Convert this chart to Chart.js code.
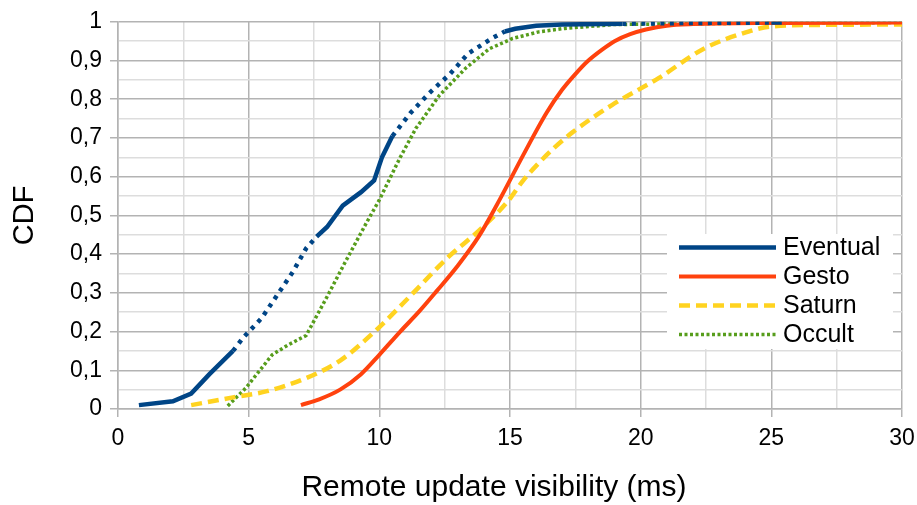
<!DOCTYPE html>
<html>
<head>
<meta charset="utf-8">
<script src="https://cdn.jsdelivr.net/npm/chart.js@4.4.1/dist/chart.umd.min.js"></script>
<style>
  html, body { margin: 0; padding: 0; background: #fff; }
  #wrap { width: 917px; height: 505px; }
</style>
</head>
<body>
<div id="wrap"><canvas id="cdf"></canvas></div>
<script>
// CDF curves (x in ms, y = cumulative fraction)
const seriesNames = ["Eventual", "Gesto", "Saturn", "Occult"];

const eventualX = [0.8, 2.1, 2.8, 3.5, 4.4, 4.8, 5.5, 6.1, 6.7, 7.2, 7.6, 8.0, 8.6, 9.3, 9.8, 10.1, 10.5, 11.2, 11.9, 12.7, 13.4, 14.3, 14.8, 15.2, 16.0, 17.0, 19.3, 22.0, 25.0, 25.4];
const eventualY = [0.01, 0.02, 0.04, 0.09, 0.15, 0.185, 0.235, 0.295, 0.355, 0.415, 0.445, 0.47, 0.525, 0.56, 0.59, 0.65, 0.705, 0.765, 0.815, 0.865, 0.918, 0.957, 0.975, 0.982, 0.99, 0.993, 0.995, 0.997, 0.998, 0.998];

const gestoX = [7.0, 7.7, 8.5, 9.3, 10.0, 10.8, 11.5, 12.2, 13.0, 13.8, 14.6, 15.5, 16.4, 17.0, 17.5, 18.0, 18.5, 19.0, 19.6, 20.2, 21.0, 22.0, 25.0, 30.0];
const gestoY = [0.01, 0.025, 0.05, 0.09, 0.14, 0.2, 0.25, 0.305, 0.37, 0.445, 0.54, 0.655, 0.765, 0.825, 0.865, 0.9, 0.927, 0.95, 0.968, 0.98, 0.99, 0.994, 0.997, 0.998];

const saturnX = [2.8, 4.4, 5.7, 7.2, 8.5, 9.9, 11.3, 12.6, 13.8, 14.9, 15.5, 16.1, 16.7, 17.4, 18.9, 20.7, 22.4, 23.9, 25.0, 27.0, 30.0];
const saturnY = [0.01, 0.03, 0.046, 0.08, 0.125, 0.205, 0.3, 0.39, 0.46, 0.535, 0.59, 0.635, 0.675, 0.715, 0.785, 0.855, 0.93, 0.97, 0.988, 0.992, 0.993];

const occultX = [4.2, 4.9, 5.9, 6.5, 7.2, 8.0, 8.7, 9.5, 10.0, 10.8, 11.4, 12.3, 13.3, 14.2, 15.1, 16.1, 17.1, 19.0, 25.0, 30.0];
const occultY = [0.008, 0.055, 0.14, 0.165, 0.19, 0.29, 0.38, 0.48, 0.54, 0.65, 0.725, 0.81, 0.88, 0.93, 0.957, 0.974, 0.983, 0.993, 0.997, 0.998];

const xTickLabels = ["0", "5", "10", "15", "20", "25", "30"];
const yTickLabels = ["0", "0,1", "0,2", "0,3", "0,4", "0,5", "0,6", "0,7", "0,8", "0,9", "1"];
const xTitle = "Remote update visibility (ms)";

// parts of the Eventual line that the original renders dotted
const eventualDottedRanges = [[4.4, 7.6], [10.5, 14.8], [19.3, 25.0]];

const colors = ["#004586", "#ff420e", "#ffd320", "#579d1c"];
const dashes = [[], [], [11, 6], [3, 2.5]];
const widths = [4.5, 4, 4.5, 3.5];

function pairs(xs, ys) {
  return xs.map((x, i) => ({ x: x, y: ys[i] }));
}

const FONT = "'Liberation Sans', Arial, sans-serif";
const MAJOR = "#b3b3b3";
const MINOR = "#dddddd";

const datasets = [
  pairs(eventualX, eventualY),
  pairs(gestoX, gestoY),
  pairs(saturnX, saturnY),
  pairs(occultX, occultY),
].map((data, i) => ({
  label: seriesNames[i],
  data: data,
  borderColor: colors[i],
  backgroundColor: colors[i],
  borderWidth: widths[i],
  borderDash: dashes[i],
  pointRadius: 0,
  fill: false,
  tension: 0,
  cubicInterpolationMode: i === 1 || i === 2 ? "monotone" : "default",
}));

datasets[0].segment = {
  borderDash: function (ctx) {
    const x = ctx.p0.parsed.x;
    const dotted = eventualDottedRanges.some((r) => x >= r[0] - 1e-6 && x < r[1] - 1e-6);
    return dotted ? [4, 5.5] : [];
  },
};

// legend drawn inside the plot, LibreOffice style, plus the x axis title
const insideLegend = {
  id: "insideLegend",
  afterDraw(chart) {
    const ctx = chart.ctx;
    ctx.save();
    ctx.fillStyle = "#ffffff";
    ctx.fillRect(667, 234, 226, 115);
    ctx.font = "25px " + FONT;
    ctx.textBaseline = "middle";
    ctx.textAlign = "left";
    seriesNames.forEach((name, i) => {
      const y = 247.5 + i * 29;
      ctx.beginPath();
      ctx.setLineDash(dashes[i]);
      ctx.lineWidth = widths[i];
      ctx.strokeStyle = colors[i];
      ctx.moveTo(679, y);
      ctx.lineTo(776, y);
      ctx.stroke();
      ctx.setLineDash([]);
      ctx.fillStyle = "#000000";
      ctx.fillText(name, 783, y + 1);
    });
    ctx.font = "30px " + FONT;
    ctx.textAlign = "center";
    ctx.fillText(xTitle, 494, 488);
    ctx.restore();
  },
};

function isMajor(value, step) {
  const r = value / step;
  return Math.abs(r - Math.round(r)) < 1e-6;
}

new Chart(document.getElementById("cdf"), {
  type: "line",
  data: { datasets },
  plugins: [insideLegend],
  options: {
    responsive: true,
    maintainAspectRatio: false,
    animation: false,
    layout: { padding: { top: 20, right: 15, bottom: 0, left: 0 } },
    plugins: { legend: { display: false }, tooltip: { enabled: false } },
    scales: {
      x: {
        type: "linear",
        min: 0,
        max: 30,
        border: { color: MAJOR, width: 1.5 },
        grid: {
          color: (c) => (isMajor(c.tick.value, 5) ? MAJOR : MINOR),
          lineWidth: 1.5,
          tickLength: 8,
          tickColor: (c) => (isMajor(c.tick.value, 5) ? MAJOR : "rgba(0,0,0,0)"),
        },
        ticks: {
          stepSize: 2.5,
          autoSkip: false,
          maxRotation: 0,
          padding: 8,
          color: "#000",
          font: { family: FONT, size: 23 },
          callback: (v) => (isMajor(v, 5) ? xTickLabels[Math.round(v / 5)] : ""),
        },
        title: { display: false },
        afterFit: (scale) => {
          scale.height = 96;
          scale.paddingLeft = 0;
          scale.paddingRight = 0;
        },
      },
      y: {
        min: 0,
        max: 1,
        border: { color: MAJOR, width: 1.5 },
        grid: {
          color: (c) => (isMajor(c.tick.value, 0.1) ? MAJOR : MINOR),
          lineWidth: 1.5,
          tickLength: 8,
          tickColor: (c) => (isMajor(c.tick.value, 0.1) ? MAJOR : "rgba(0,0,0,0)"),
        },
        ticks: {
          stepSize: 0.05,
          autoSkip: false,
          padding: 8,
          color: "#000",
          font: { family: FONT, size: 23 },
          callback: (v) => (isMajor(v, 0.1) ? yTickLabels[Math.round(v * 10)] : ""),
        },
        title: {
          display: true,
          text: "CDF",
          color: "#000",
          font: { family: FONT, size: 29 },
          padding: { top: 8, bottom: 0 },
        },
        afterFit: (scale) => { scale.width = 118; },
      },
    },
  },
});
</script>
</body>
</html>
